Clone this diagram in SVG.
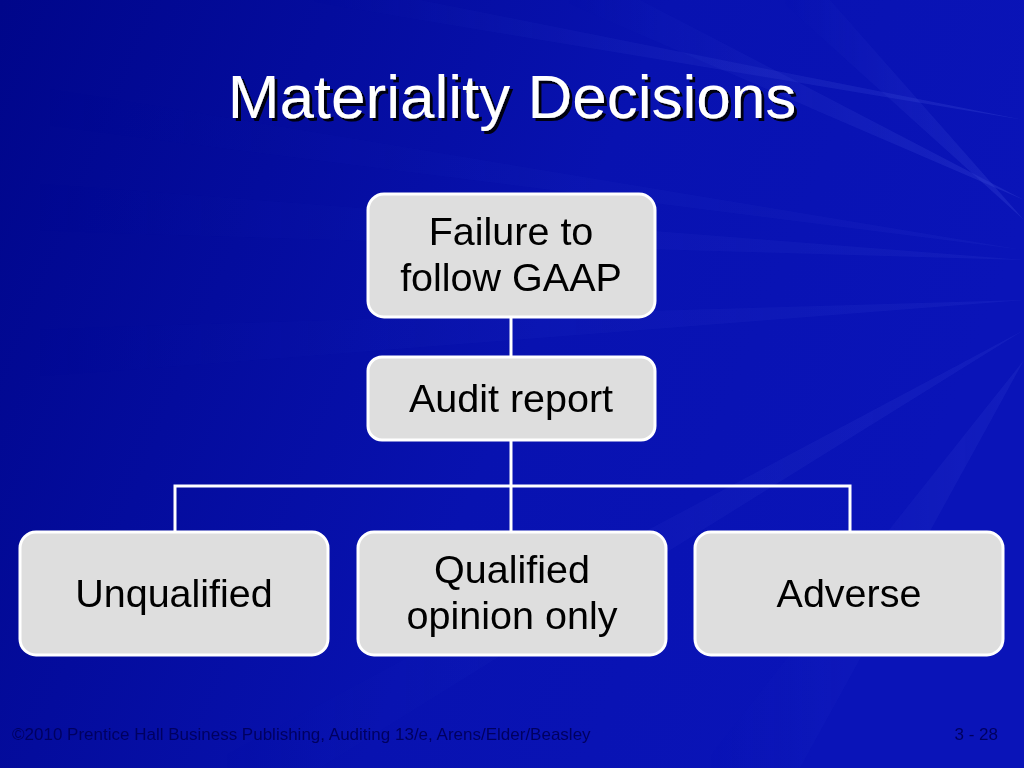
<svg xmlns="http://www.w3.org/2000/svg" width="1024" height="768" viewBox="0 0 1024 768">
<defs>
<linearGradient id="bg" x1="0" y1="0" x2="1" y2="0.3">
<stop offset="0" stop-color="#00068a"/>
<stop offset="0.6" stop-color="#0812b0"/>
<stop offset="1" stop-color="#0a14b8"/>
</linearGradient>
<linearGradient id="ray" x1="0" y1="0" x2="1" y2="0">
<stop offset="0" stop-color="#4a5ae0" stop-opacity="0"/>
<stop offset="1" stop-color="#5a6ae8" stop-opacity="0.3"/>
</linearGradient>
<filter id="sh" x="-5%" y="-5%" width="110%" height="120%">
<feDropShadow dx="3" dy="3" stdDeviation="0.5" flood-color="#000000" flood-opacity="0.9"/>
</filter>
</defs>
<style>
.box{fill:#dedede;stroke:#ffffff;stroke-width:3}
.lbl{font-family:"Liberation Sans",Arial,sans-serif;font-size:39.5px;fill:#000000;text-anchor:middle}
.conn{stroke:#ffffff;stroke-width:3;fill:none}
.foot{font-family:"Liberation Sans",Arial,sans-serif;font-size:17px;fill:#000060}
</style>
<rect width="1024" height="768" fill="url(#bg)"/>
<g opacity="0.7">
<polygon points="1024,120 300,0 420,0" fill="url(#ray)"/>
<polygon points="1024,200 560,0 640,0" fill="url(#ray)"/>
<polygon points="1024,260 0,180 0,230" fill="url(#ray)" opacity="0.5"/>
<polygon points="1024,300 0,330 0,380" fill="url(#ray)" opacity="0.5"/>
<polygon points="1024,330 200,768 320,768" fill="url(#ray)" opacity="0.6"/>
<polygon points="1024,360 700,768 800,768" fill="url(#ray)" opacity="0.6"/>
<polygon points="1024,250 0,80 0,120" fill="url(#ray)" opacity="0.4"/>
<polygon points="1024,220 780,0 830,0" fill="url(#ray)"/>
</g>
<text x="512" y="118" font-family="'Liberation Sans',Arial,sans-serif" font-size="62" fill="#ffffff" text-anchor="middle" filter="url(#sh)">Materiality Decisions</text>
<g id="connectors">
<line class="conn" x1="511" y1="317" x2="511" y2="358"/>
<line class="conn" x1="511" y1="440" x2="511" y2="532"/>
<polyline class="conn" points="175,532 175,486 850,486 850,532"/>
</g>
<g id="failure">
<rect class="box" x="368" y="194" width="287" height="123" rx="16"/>
<text class="lbl" x="511" y="245">Failure to</text>
<text class="lbl" x="511" y="291">follow GAAP</text>
</g>
<g id="audit">
<rect class="box" x="368" y="357" width="287" height="83" rx="14"/>
<text class="lbl" x="511" y="412">Audit report</text>
</g>
<g id="unqualified">
<rect class="box" x="20" y="532" width="308" height="123" rx="16"/>
<text class="lbl" x="174" y="607">Unqualified</text>
</g>
<g id="qualified">
<rect class="box" x="358" y="532" width="308" height="123" rx="16"/>
<text class="lbl" x="512" y="583">Qualified</text>
<text class="lbl" x="512" y="629">opinion only</text>
</g>
<g id="adverse">
<rect class="box" x="695" y="532" width="308" height="123" rx="16"/>
<text class="lbl" x="849" y="607">Adverse</text>
</g>
<text class="foot" x="12" y="740">©2010 Prentice Hall Business Publishing, Auditing 13/e, Arens/Elder/Beasley</text>
<text class="foot" x="998" y="740" text-anchor="end">3 - 28</text>
</svg>
